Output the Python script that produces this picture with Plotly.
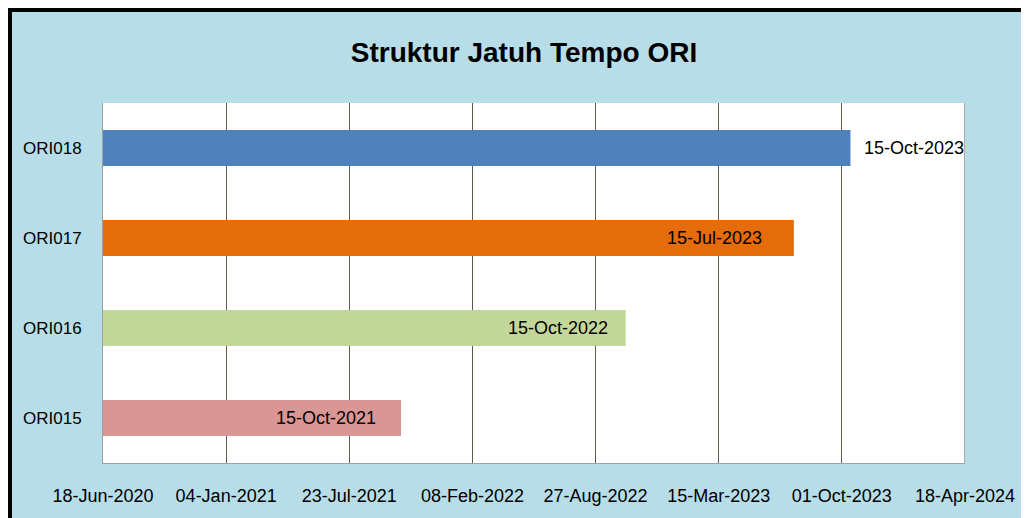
import datetime as dt
import plotly.graph_objects as go

# ---- data ----
categories = ["ORI018", "ORI017", "ORI016", "ORI015"]
maturity_dates = ["2023-10-15", "2023-07-15", "2022-10-15", "2021-10-15"]
bar_colors = ["#4F81BD", "#E46C0A", "#C4D79B", "#DA9694"]
tick_dates = ["2020-06-18", "2021-01-04", "2021-07-23", "2022-02-08",
              "2022-08-27", "2023-03-15", "2023-10-01", "2024-04-18"]
axis_start = "2020-06-18"
axis_end = "2024-04-18"
title_text = "Struktur Jatuh Tempo ORI"

def fmt(d):
    return dt.datetime.strptime(d, "%Y-%m-%d").strftime("%d-%b-%Y")

tick_text = [fmt(d) for d in tick_dates]
label_text = [fmt(d) for d in maturity_dates]

# label placement (style)
label_anchor = ["left", "right", "right", "right"]
label_shift = [12, -30, -16, -23]

FONT = "Liberation Sans, Arial, sans-serif"
BG = "#B7DDE8"
GRID = "#5F5A4C"

fig = go.Figure()
fig.add_trace(go.Bar(
    y=categories,
    x=maturity_dates,
    orientation="h",
    marker=dict(color=bar_colors, line=dict(width=0)),
    hoverinfo="skip",
    showlegend=False,
))

for c, d, t, a, s in zip(categories, maturity_dates, label_text, label_anchor, label_shift):
    fig.add_annotation(x=d, y=c, text=t, showarrow=False, xanchor=a, xshift=s,
                       yanchor="middle", font=dict(family=FONT, size=18, color="#000000"))

# pixel geometry (figure coordinates; page has an 8px body margin)
W, H = 1021, 510
L, R, T, B = 95, W - 957, 95, H - 455
pw, ph = W - L - R, H - T - B

def px(x):
    return (x - L) / pw

def py(y):
    return (H - B - y) / ph

shapes = [
    dict(type="line", xref="paper", yref="paper", x0=px(0), x1=px(W + 20), y0=py(2), y1=py(2),
         line=dict(color="black", width=4), layer="below"),
    dict(type="line", xref="paper", yref="paper", x0=px(2), x1=px(2), y0=py(0), y1=py(H + 20),
         line=dict(color="black", width=4), layer="below"),
    # gridline at the last tick (plot right edge)
    dict(type="line", xref="x", yref="paper", x0=axis_end, x1=axis_end, y0=0, y1=1,
         line=dict(color=GRID, width=1), layer="above"),
]

fig.update_layout(
    width=W, height=H, autosize=False,
    margin=dict(l=L, r=R, t=T, b=B),
    paper_bgcolor=BG,
    plot_bgcolor="white",
    bargap=0.6,
    shapes=shapes,
    title=dict(text="<b>" + title_text + "</b>", x=516 / W, xanchor="center", xref="container",
               y=1 - 44 / H, yanchor="middle", font=dict(family=FONT, size=28, color="#000000")),
    xaxis=dict(
        type="date",
        range=[axis_start, axis_end],
        tickvals=tick_dates,
        ticktext=tick_text,
        showgrid=True, gridcolor=GRID, gridwidth=1,
        showline=True, linecolor="#A0A0A0", linewidth=1,
        ticks="", ticklabelstandoff=16,
        tickfont=dict(family=FONT, size=18, color="#000000"),
        zeroline=False,
    ),
    yaxis=dict(
        type="category",
        categoryorder="array", categoryarray=categories,
        autorange="reversed",
        showgrid=False,
        showline=True, linecolor="#A0A0A0", linewidth=1,
        ticks="", ticklabelstandoff=17,
        tickfont=dict(family=FONT, size=17, color="#000000"),
    ),
)

fig.write_html("out.html")
